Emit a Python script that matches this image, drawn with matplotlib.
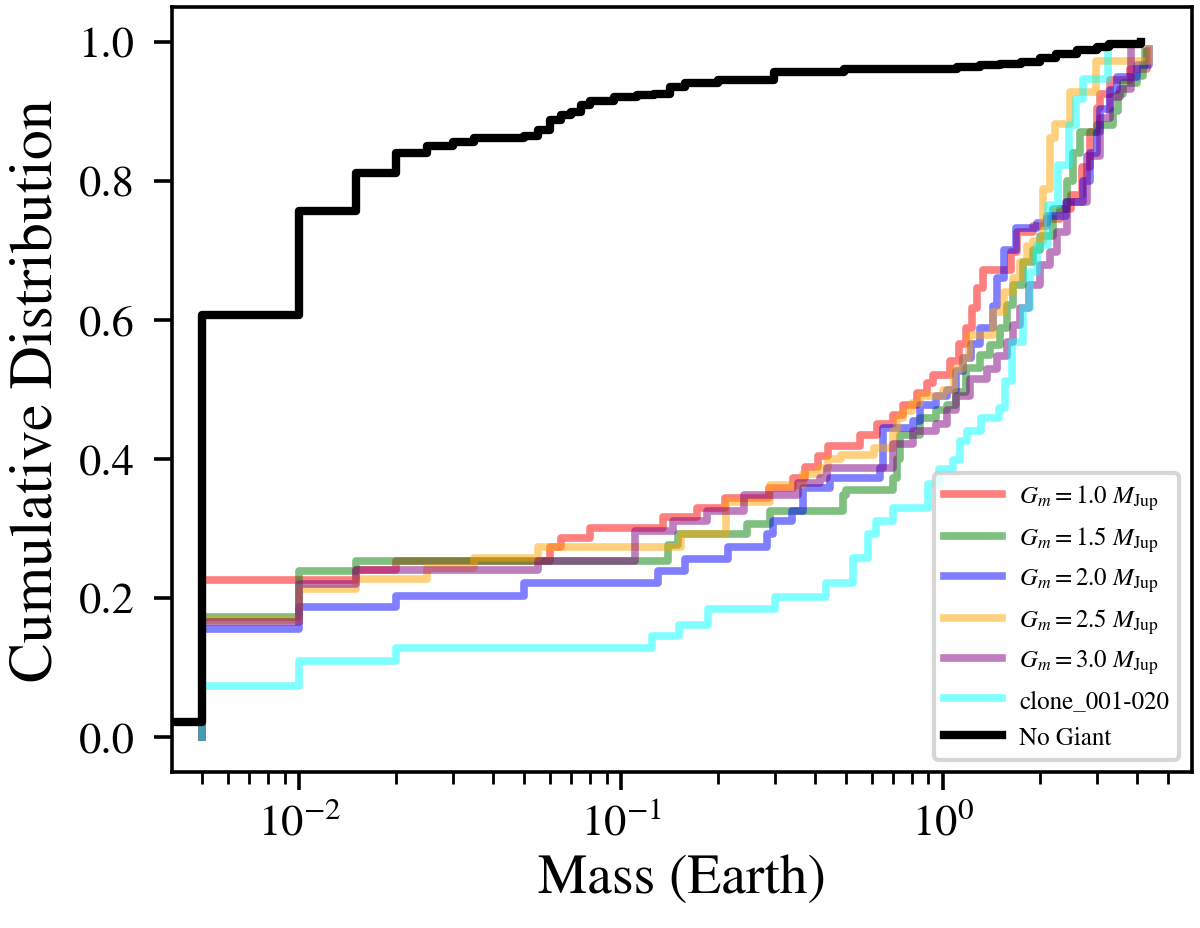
import numpy as np
import matplotlib
matplotlib.use("Agg")
import matplotlib.pyplot as plt

plt.rcParams['font.family'] = 'serif'
plt.rcParams['font.serif'] = ['STIXGeneral', 'Liberation Serif', 'DejaVu Serif']
plt.rcParams['mathtext.fontset'] = 'stix'

# step positions (Earth masses) and cumulative values
red_m = [0.005, 0.005, 0.015, 0.02, 0.06, 0.065, 0.08, 0.135, 0.172, 0.21, 0.287, 0.342, 0.373, 0.41, 0.44,
         0.553, 0.622, 0.70, 0.751, 0.83, 0.89, 0.93, 1.05, 1.12, 1.18, 1.23, 1.27, 1.33, 1.63, 1.70, 1.9,
         2.1, 2.3, 2.5, 2.7, 2.86, 3.0, 3.07, 3.3, 3.81, 4.29]
red_c = [0.0, 0.226, 0.240, 0.254, 0.273, 0.287, 0.301, 0.316, 0.330, 0.344, 0.359, 0.373, 0.389, 0.404, 0.419,
         0.435, 0.450, 0.464, 0.478, 0.495, 0.509, 0.521, 0.541, 0.565, 0.588, 0.617, 0.646, 0.672, 0.698, 0.727, 0.735,
         0.745, 0.760, 0.780, 0.820, 0.870, 0.905, 0.925, 0.945, 0.961, 0.987]

green_m = [0.005, 0.005, 0.01, 0.015, 0.14, 0.15, 0.246, 0.29, 0.49, 0.50, 0.70, 0.72, 0.735, 0.85, 0.95,
           1.03, 1.10, 1.18, 1.30, 1.40, 1.50, 1.58, 1.65, 1.77, 1.9, 2.0, 2.2, 2.42, 2.53, 2.66, 3.0,
           3.37, 3.49, 3.62, 4.0, 4.17, 4.25]
green_c = [0.0, 0.173, 0.239, 0.254, 0.277, 0.292, 0.306, 0.325, 0.349, 0.356, 0.373, 0.40, 0.435, 0.459, 0.470,
           0.478, 0.497, 0.531, 0.550, 0.564, 0.588, 0.622, 0.650, 0.684, 0.700, 0.720, 0.760, 0.800, 0.840, 0.870, 0.880,
           0.900, 0.925, 0.940, 0.951, 0.966, 0.985]

blue_m = [0.005, 0.005, 0.01, 0.02, 0.05, 0.13, 0.158, 0.214, 0.284, 0.296, 0.34, 0.368, 0.446, 0.637, 0.651,
          0.807, 0.85, 0.95, 1.03, 1.10, 1.15, 1.22, 1.30, 1.43, 1.47, 1.55, 1.69, 1.96, 2.1, 2.4, 2.72,
          2.85, 3.0, 3.07, 3.3, 3.46, 4.0, 4.35]
blue_c = [0.0, 0.155, 0.187, 0.203, 0.222, 0.239, 0.256, 0.273, 0.292, 0.311, 0.325, 0.359, 0.373, 0.387, 0.445,
          0.455, 0.478, 0.490, 0.500, 0.526, 0.545, 0.565, 0.588, 0.620, 0.660, 0.700, 0.732, 0.740, 0.750, 0.770, 0.800,
          0.840, 0.870, 0.904, 0.930, 0.950, 0.966, 0.990]

orange_m = [0.005, 0.005, 0.01, 0.015, 0.025, 0.035, 0.055, 0.153, 0.212, 0.29, 0.368, 0.415, 0.44, 0.48, 0.61,
            0.70, 0.72, 0.75, 0.80, 0.85, 1.0, 1.08, 1.15, 1.20, 1.43, 1.55, 1.65, 1.73, 1.82, 1.90, 2.04,
            2.15, 2.23, 2.48, 2.99, 4.35]
orange_c = [0.0, 0.168, 0.213, 0.228, 0.243, 0.258, 0.273, 0.292, 0.338, 0.363, 0.378, 0.387, 0.400, 0.406, 0.416,
            0.440, 0.459, 0.469, 0.480, 0.490, 0.500, 0.530, 0.545, 0.579, 0.612, 0.640, 0.660, 0.684, 0.707, 0.713, 0.789,
            0.861, 0.882, 0.928, 0.973, 0.990]

purple_m = [0.005, 0.005, 0.01, 0.015, 0.055, 0.11, 0.145, 0.185, 0.24, 0.354, 0.415, 0.436, 0.70, 0.807, 0.95,
            1.03, 1.10, 1.21, 1.37, 1.47, 1.58, 1.65, 1.73, 1.85, 2.0, 2.15, 2.26, 2.42, 2.79, 3.07, 3.3,
            3.55, 3.83]
purple_c = [0.0, 0.165, 0.220, 0.240, 0.254, 0.297, 0.311, 0.325, 0.349, 0.365, 0.373, 0.387, 0.421, 0.440, 0.450,
            0.470, 0.490, 0.515, 0.530, 0.548, 0.568, 0.593, 0.617, 0.650, 0.679, 0.698, 0.727, 0.770, 0.836, 0.890, 0.920,
            0.932, 0.987]

cyan_m = [0.005, 0.005, 0.01, 0.02, 0.125, 0.151, 0.186, 0.301, 0.433, 0.524, 0.586, 0.617, 0.70, 0.898, 0.97,
          1.07, 1.13, 1.19, 1.31, 1.49, 1.56, 1.64, 1.77, 1.86, 1.96, 2.12, 2.28, 2.46, 2.59, 2.72, 3.26]
cyan_c = [0.0, 0.074, 0.110, 0.128, 0.146, 0.162, 0.185, 0.202, 0.222, 0.258, 0.292, 0.311, 0.330, 0.364, 0.385,
          0.399, 0.426, 0.440, 0.459, 0.473, 0.512, 0.569, 0.617, 0.669, 0.708, 0.765, 0.823, 0.880, 0.918, 0.947, 0.987]

nogiant_m = [0.001, 0.005, 0.01, 0.015, 0.02, 0.025, 0.03, 0.035, 0.05, 0.055, 0.06, 0.065, 0.07, 0.075, 0.08,
             0.095, 0.112, 0.126, 0.142, 0.158, 0.2, 0.298, 0.493, 1.105, 1.3, 1.5, 1.75, 2.0, 2.24, 2.6, 3.0,
             3.27, 4.12]
nogiant_c = [0.0215, 0.607, 0.757, 0.812, 0.840, 0.850, 0.856, 0.861, 0.865, 0.873, 0.887, 0.894, 0.899, 0.909, 0.915,
             0.921, 0.923, 0.925, 0.935, 0.940, 0.945, 0.956, 0.961, 0.964, 0.966, 0.968, 0.971, 0.976, 0.983, 0.988, 0.993,
             0.997, 1.0]

series = [
    (red_m, red_c, 'red', r'$G_m = 1.0\ M_{\rm Jup}$'),
    (green_m, green_c, 'green', r'$G_m = 1.5\ M_{\rm Jup}$'),
    (blue_m, blue_c, 'blue', r'$G_m = 2.0\ M_{\rm Jup}$'),
    (orange_m, orange_c, 'orange', r'$G_m = 2.5\ M_{\rm Jup}$'),
    (purple_m, purple_c, 'purple', r'$G_m = 3.0\ M_{\rm Jup}$'),
    (cyan_m, cyan_c, 'cyan', 'clone_001-020'),
]

fig = plt.figure(figsize=(12, 9.29), dpi=100)
ax = fig.add_axes([0.1433, 0.1679, 0.85, 0.8235])

for m, c, col, lab in series:
    ax.step(m, c, where='post', color=col, alpha=0.5, lw=5.5, label=lab)
ax.step(nogiant_m, nogiant_c, where='post', color='black', lw=6, label='No Giant')

ax.set_xscale('log')
ax.set_xlim(0.00402, 5.93)
ax.set_ylim(-0.05, 1.05)
ax.set_yticks([0.0, 0.2, 0.4, 0.6, 0.8, 1.0])

for s in ax.spines.values():
    s.set_linewidth(2.6)
ax.tick_params(axis='both', which='major', length=13, width=2.6)
ax.tick_params(axis='both', which='minor', length=8.5, width=2.0)
ax.tick_params(axis='y', labelsize=32, pad=14)
ax.tick_params(axis='x', labelsize=32, pad=8)

ax.set_xlabel('Mass (Earth)', fontsize=40, labelpad=8)
ax.set_ylabel('Cumulative Distribution', fontsize=43, labelpad=10)

leg = ax.legend(loc='lower right', fontsize=18, handlelength=2.3, handletextpad=0.7)
leg.get_frame().set_linewidth(3)
leg.get_frame().set_edgecolor('0.8')

fig.savefig('out.png', dpi=100)
